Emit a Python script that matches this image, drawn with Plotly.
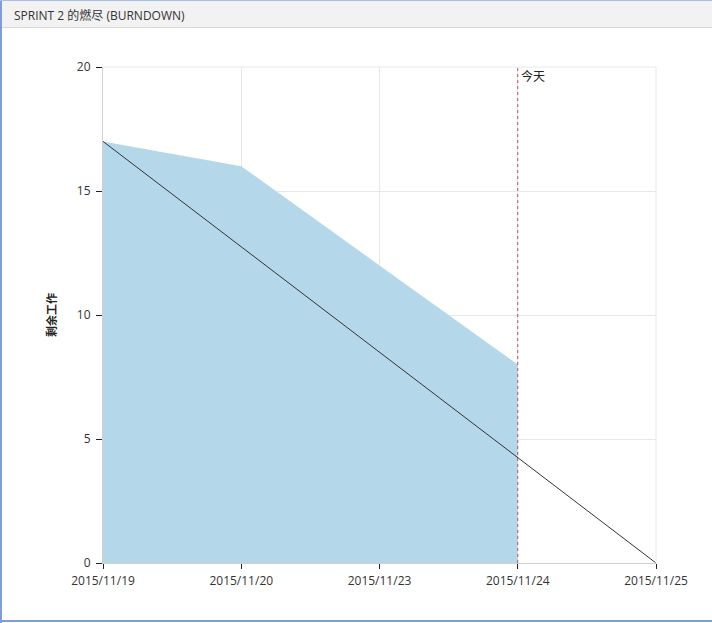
import plotly.graph_objects as go

dates = ["2015/11/19", "2015/11/20", "2015/11/23", "2015/11/24", "2015/11/25"]
remaining_dates = ["2015/11/19", "2015/11/20", "2015/11/23", "2015/11/24"]
remaining_work = [17, 16, 12, 8]
ideal_dates = ["2015/11/19", "2015/11/25"]
ideal_work = [17, 0]
today = "2015/11/24"
y_ticks = [0, 5, 10, 15, 20]

W, H = 712, 623
L, R, T, B = 103, 56, 67, 60
pw, ph = W - L - R, H - T - B

def px(x):
    return (x - L) / pw

def py(y):
    return 1 - (y - T) / ph

fig = go.Figure()
fig.add_trace(go.Scatter(x=remaining_dates, y=remaining_work, mode="lines",
                         line=dict(width=0, color="#b4d8e9"), fill="tozeroy",
                         fillcolor="#b4d8e9", hoverinfo="skip", showlegend=False))
fig.add_trace(go.Scatter(x=ideal_dates, y=ideal_work, mode="lines",
                         line=dict(width=1, color="#333333"), showlegend=False))
fig.add_trace(go.Scatter(x=[today, today], y=[0, 20], mode="lines",
                         line=dict(width=1, color="#b0506e", dash="dot"), showlegend=False))

font_main = "Segoe UI, Open Sans, Noto Sans CJK SC, sans-serif"
fig.update_layout(
    width=W, height=H,
    margin=dict(l=L, r=R, t=T, b=B),
    paper_bgcolor="white", plot_bgcolor="white",
    font=dict(family=font_main, size=12, color="#333333"),
    xaxis=dict(type="category", categoryorder="array", categoryarray=dates,
               range=[0, 4], showgrid=True, gridcolor="#e8e8e8", gridwidth=1,
               ticks="outside", ticklen=5, tickcolor="#222222",
               showline=True, linecolor="#d0d0d0", zeroline=False,
               ticklabelstandoff=2,
               tickfont=dict(size=12, color="#333333")),
    yaxis=dict(range=[0, 20], tickvals=y_ticks, showgrid=True, gridcolor="#e8e8e8",
               ticks="outside", ticklen=6, tickcolor="#222222",
               showline=True, linecolor="#d0d0d0", zeroline=False,
               ticklabelstandoff=3,
               tickfont=dict(size=12, color="#333333"),
               title=dict(text="<b>剩余工作</b>", standoff=18,
                          font=dict(size=11, family="Noto Sans CJK SC", color="#222222"))),
)

# top/right border of plot area
fig.add_shape(type="line", xref="paper", yref="paper", x0=0, x1=1, y0=1, y1=1,
              line=dict(color="#e8e8e8", width=1))
fig.add_shape(type="line", xref="paper", yref="paper", x0=1, x1=1, y0=0, y1=1,
              line=dict(color="#e8e8e8", width=1))

# header bar
fig.add_shape(type="rect", xref="paper", yref="paper", x0=px(0), x1=px(W), y0=py(27.5), y1=py(1),
              fillcolor="#f2f2f2", line=dict(width=0), layer="below")
fig.add_shape(type="line", xref="paper", yref="paper", x0=px(0), x1=px(W), y0=py(27.5), y1=py(27.5),
              line=dict(color="#d6d6d6", width=1))
# window border (left, top, bottom)
border = "#7d9fd6"
fig.add_shape(type="line", xref="paper", yref="paper", x0=px(1), x1=px(1), y0=py(623), y1=py(0),
              line=dict(color=border, width=2))
fig.add_shape(type="line", xref="paper", yref="paper", x0=px(0), x1=px(W), y0=py(621), y1=py(621),
              line=dict(color=border, width=2))
fig.add_shape(type="line", xref="paper", yref="paper", x0=px(0), x1=px(W), y0=py(0.5), y1=py(0.5),
              line=dict(color="#a9c0e4", width=1))

fig.add_annotation(xref="paper", yref="paper", x=px(12), y=py(15), xanchor="left", yanchor="middle",
                   text="SPRINT 2 的燃尽 (BURNDOWN)", showarrow=False,
                   font=dict(size=12, color="#333333", family=font_main))
fig.add_annotation(x=today, y=20, xanchor="left", yanchor="top", xshift=1, yshift=2,
                   text="今天", showarrow=False,
                   font=dict(size=12, color="#222222", family="Noto Sans CJK SC"))

fig.write_html("out.html", config={"displayModeBar": False},
               post_script="document.body.style.margin='0';document.body.style.padding='0';")
